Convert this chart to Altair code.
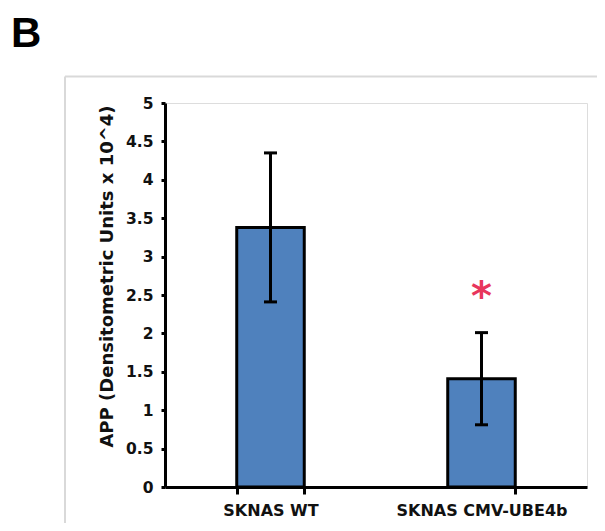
import altair as alt
import pandas as pd

categories = ["SKNAS WT", "SKNAS CMV-UBE4b"]
means = [3.38, 1.41]
errors = [0.97, 0.60]
sig_marks = ["", "*"]
sig_y = [None, 2.58]
y_ticks = [0.0, 0.5, 1.0, 1.5, 2.0, 2.5, 3.0, 3.5, 4.0, 4.5, 5.0]

df = pd.DataFrame({
    "cat": categories,
    "mean": means,
    "lo": [m - e for m, e in zip(means, errors)],
    "hi": [m + e for m, e in zip(means, errors)],
})
sig = pd.DataFrame({"cat": categories[1:], "y": [sig_y[1]], "t": [sig_marks[1]]})

FONT = "DejaVu Sans"

xaxis = alt.Axis(labelAngle=0, labelFont=FONT, labelFontSize=16,
                 labelFontWeight="bold", labelColor="#111",
                 tickBand="extent", tickSize=7, tickWidth=3,
                 tickColor="black", domainColor="black",
                 domainWidth=3, labelPadding=8, zindex=1)
xscale = alt.Scale(paddingInner=0.68, paddingOuter=0.34)
yscale = alt.Scale(domain=[0, 5], nice=False)
yaxis = alt.Axis(values=y_ticks, format="~g", grid=False, labelFont=FONT,
                 labelFontSize=15.5, labelFontWeight="bold", labelColor="#111",
                 labelOverlap=False,
                 tickSize=4, tickWidth=3, tickColor="black",
                 domainColor="black", domainWidth=3, labelPadding=8,
                 title="APP (Densitometric  Units x 10^4)", titleFont=FONT,
                 titleFontSize=18, titleFontWeight="bold", titleColor="#111",
                 titleAngle=-90, titleAlign="center", titleBaseline="middle",
                 titleX=-58, titleY=173, zindex=1)


def X():
    return alt.X("cat:N", sort=categories, title=None, scale=xscale, axis=xaxis)


def Y(field):
    return alt.Y(field, scale=yscale, axis=yaxis)


base = alt.Chart(df)
bars = base.mark_bar(fill="#4f81bd", stroke="black", strokeWidth=3).encode(
    x=X(), y=Y("mean:Q"))
err = base.mark_rule(color="black", strokeWidth=3).encode(
    x=X(), y=Y("lo:Q"), y2="hi:Q")
cap_lo = base.mark_tick(color="black", thickness=3, size=13, opacity=1,
                        orient="horizontal").encode(x=X(), y=Y("lo:Q"))
cap_hi = base.mark_tick(color="black", thickness=3, size=13, opacity=1,
                        orient="horizontal").encode(x=X(), y=Y("hi:Q"))
star = alt.Chart(sig).mark_text(color="#e8365c", fontSize=40, font=FONT,
                                fontWeight="bold", baseline="middle", dy=9).encode(
    x=X(), y=Y("y:Q"), text="t:N")

one = pd.DataFrame({"a": [0]})
box_top = alt.Chart(one).mark_rule(color="#d9d9d9", strokeWidth=2).encode(
    x=alt.value(-100), x2=alt.value(460), y=alt.value(-26.5))
box_left = alt.Chart(one).mark_rule(color="#d9d9d9", strokeWidth=2).encode(
    x=alt.value(-100), y=alt.value(-26.5), y2=alt.value(440))
label_b = alt.Chart(one).mark_text(text="B", font="Liberation Sans",
                                   fontSize=42, fontWeight="bold", align="left",
                                   baseline="alphabetic", color="black").encode(
    x=alt.value(-154), y=alt.value(-56.5))

chart = alt.layer(box_top, box_left, label_b, bars, err, cap_lo, cap_hi, star).properties(
    width=422, height=384,
    padding={"left": 157, "top": 95, "right": 10, "bottom": 36},
    autosize=alt.AutoSizeParams(type="none"),
).configure_view(strokeWidth=0).configure(background="white")

chart.save("out.html", embed_options={"renderer": "svg", "actions": False})
